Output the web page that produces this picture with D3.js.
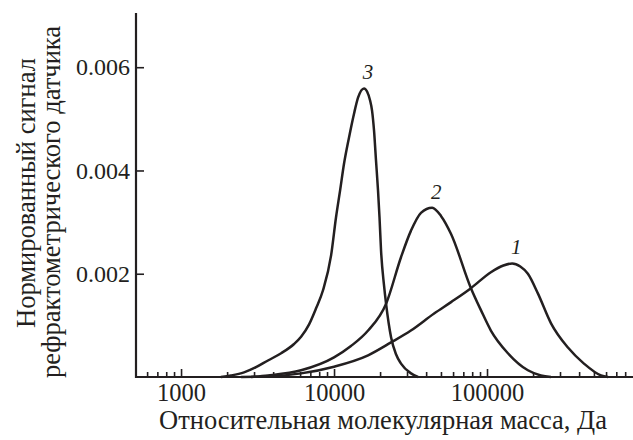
<!DOCTYPE html>
<html>
<head>
<meta charset="utf-8">
<script src="https://cdn.jsdelivr.net/npm/d3@7"></script>
<style>
  body { margin: 0; background: #fff; }
  svg { display: block; font-family: "Liberation Serif", "DejaVu Serif", serif; }
</style>
</head>
<body>
<svg id="chart" width="633" height="440"></svg>
<script>
// molecular mass (Da) and normalized refractometer signal for each sample
const mass1 = [2470, 3700, 6090, 10000, 16700, 23600, 31800, 45100, 58200, 78500, 106000, 128000, 146000, 165000, 185000, 215000, 262000, 338000, 430000, 556000, 618000];
const signal1 = [0, 0.00001, 0.00007, 0.00020, 0.00042, 0.00067, 0.00090, 0.00123, 0.00145, 0.00172, 0.00203, 0.00216, 0.00220, 0.00214, 0.00200, 0.00162, 0.00104, 0.00057, 0.00026, 0.00003, 0];

const mass2 = [2870, 3700, 6090, 10000, 12900, 16700, 21900, 27400, 31800, 37000, 43800, 50000, 58200, 78500, 91400, 106000, 137000, 185000, 225000, 262000];
const signal2 = [0, 0.00003, 0.00013, 0.00038, 0.00060, 0.00090, 0.00142, 0.00232, 0.00283, 0.00318, 0.00328, 0.00312, 0.00277, 0.00172, 0.00129, 0.00090, 0.00046, 0.00013, 0.00003, 0];

const mass3 = [1820, 2120, 2580, 3090, 3700, 4510, 5480, 6090, 6870, 7630, 8470, 9560, 10300, 10950, 11620, 12530, 13510, 14350, 15700,
               16440, 17190, 17720, 18260, 18810, 19390, 19830, 20290, 21230, 21880, 23590, 25420, 27410, 31860, 35400];
const signal3 = [0, 0.00003, 0.00009, 0.00019, 0.00032, 0.00046, 0.00064, 0.00078, 0.00102, 0.00133, 0.00168, 0.00235, 0.00309, 0.00361, 0.00413, 0.00464, 0.00510, 0.00541, 0.00559,
                 0.00553, 0.00536, 0.00516, 0.00477, 0.00419, 0.00361, 0.00309, 0.00245, 0.00177, 0.00142, 0.00077, 0.00044, 0.00026, 0.00007, 0];

const seriesNames = ["1", "2", "3"];
const xMajor = [1000, 10000, 100000];
const xMinor = [600, 700, 800, 900, 2000, 3000, 4000, 5000, 6000, 7000, 8000, 9000,
                20000, 30000, 40000, 50000, 60000, 70000, 80000, 90000,
                200000, 300000, 400000, 500000, 600000, 700000, 800000];
const yTicks = [0.002, 0.004, 0.006];

const xTitle = "Относительная молекулярная масса, Да";
const yTitle = ["Нормированный сигнал", "рефрактометрического датчика"];

const series = [
  {name: seriesNames[0], pts: mass1.map((m, i) => ({m, v: signal1[i]}))},
  {name: seriesNames[1], pts: mass2.map((m, i) => ({m, v: signal2[i]}))},
  {name: seriesNames[2], pts: mass3.map((m, i) => ({m, v: signal3[i]}))}
];

const ink = "#231f20";
const left = 136;
const bottom = 377;

const xScale = d3.scaleLog([500, 900000], [135, 633]);
const yScale = d3.scaleLinear([0, 0.00705], [bottom, 13]);

const svg = d3.select("#chart");

// x axis: minor ticks, then major ticks with labels
svg.append("g")
    .attr("transform", `translate(0, ${bottom})`)
    .call(d3.axisBottom(xScale).tickValues(xMinor).tickSize(-5).tickFormat(""))
    .call(g => g.select(".domain").remove())
    .call(g => g.selectAll("line").attr("stroke", ink).attr("stroke-width", 1.6));

svg.append("g")
    .attr("transform", `translate(0, ${bottom})`)
    .call(d3.axisBottom(xScale).tickValues(xMajor).tickSize(-8).tickPadding(6.5).tickFormat(d3.format("d")))
    .call(g => g.select(".domain").remove())
    .call(g => g.selectAll("line").attr("stroke", ink).attr("stroke-width", 1.6))
    .call(g => g.selectAll("text")
        .attr("font-size", "24.5px")
        .attr("font-family", "Liberation Serif")
        .attr("fill", ink));

svg.append("line")
    .attr("x1", 135).attr("x2", 633)
    .attr("y1", bottom).attr("y2", bottom)
    .attr("stroke", ink).attr("stroke-width", 2.2);

// y axis, ticks pointing inward
svg.append("g")
    .attr("transform", `translate(${left}, 0)`)
    .call(d3.axisLeft(yScale).tickValues(yTicks).tickSize(-8).tickPadding(6).tickFormat(d3.format(".3f")))
    .call(g => g.select(".domain").remove())
    .call(g => g.selectAll("line").attr("stroke", ink).attr("stroke-width", 1.6))
    .call(g => g.selectAll("text")
        .attr("font-size", "24px")
        .attr("font-family", "Liberation Serif")
        .attr("fill", ink));

svg.append("line")
    .attr("x1", left).attr("x2", left)
    .attr("y1", 13).attr("y2", bottom + 1)
    .attr("stroke", ink).attr("stroke-width", 2.2);

const lineMaker = d3.line()
    .x(d => xScale(d.m))
    .y(d => yScale(d.v))
    .curve(d3.curveMonotoneX);

svg.selectAll(".curve")
    .data(series)
    .enter()
    .append("path")
    .attr("class", "curve")
    .attr("d", d => lineMaker(d.pts))
    .attr("fill", "none")
    .attr("stroke", ink)
    .attr("stroke-width", 2.5);

// curve numbers above each peak
svg.selectAll(".curve-label")
    .data(series)
    .enter()
    .append("text")
    .attr("class", "curve-label")
    .attr("x", d => xScale(d.pts[d3.maxIndex(d.pts, p => p.v)].m) + 4)
    .attr("y", d => yScale(d3.max(d.pts, p => p.v)) - 9)
    .attr("text-anchor", "middle")
    .attr("font-size", "21px")
    .attr("font-style", "italic")
    .attr("fill", ink)
    .text(d => d.name);

svg.append("text")
    .attr("x", 383)
    .attr("y", 429)
    .attr("text-anchor", "middle")
    .attr("font-size", "26.5px")
    .attr("fill", ink)
    .text(xTitle);

svg.append("g")
    .attr("transform", "rotate(-90)")
    .selectAll("text")
    .data(yTitle)
    .enter()
    .append("text")
    .attr("x", (d, i) => i === 0 ? -193 : -202)
    .attr("y", (d, i) => 35 + i * 25)
    .attr("text-anchor", "middle")
    .attr("font-size", "26.5px")
    .attr("fill", ink)
    .text(d => d);
</script>
</body>
</html>
